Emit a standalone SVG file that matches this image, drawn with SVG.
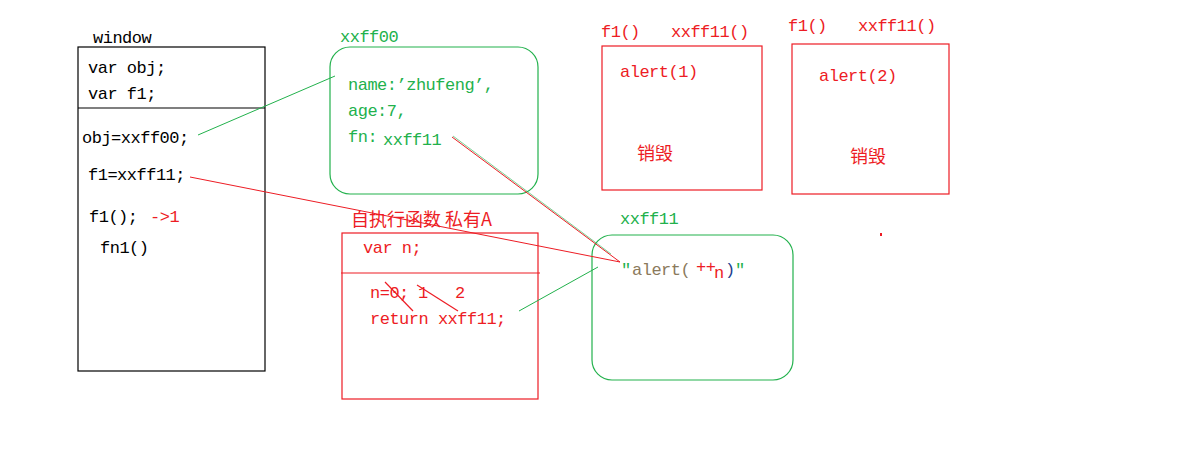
<svg xmlns="http://www.w3.org/2000/svg" width="1200" height="460" viewBox="0 0 1200 460">
<style>
text{font-family:"Liberation Mono","DejaVu Sans Mono","Noto Sans CJK SC",monospace;font-size:17px;letter-spacing:-0.5px}
.k{fill:#000}
.g{fill:#22b14c}
.r{fill:#ed1c24}
.cn{font-family:"Noto Sans CJK SC",sans-serif;font-size:18px;letter-spacing:0}
.bk{fill:none;stroke:#000;stroke-width:1.2}
.gb{fill:none;stroke:#22b14c;stroke-width:1.2}
.rb{fill:none;stroke:#ed1c24;stroke-width:1.2}
</style>
<rect width="1200" height="460" fill="#fff"/>

<g id="window">
<text class="k" x="93" y="43">window</text>
<rect class="bk" x="78" y="47" width="187" height="324"/>
<line class="bk" x1="78" y1="108" x2="265" y2="108"/>
<text class="k" x="88" y="73">var obj;</text>
<text class="k" x="88" y="99">var f1;</text>
<text class="k" x="82" y="143">obj=xxff00;</text>
<text class="k" x="88" y="180">f1=xxff11;</text>
<text class="k" x="89" y="222">f1();</text>
<text class="r" x="150" y="222">-&gt;1</text>
<text class="k" x="100" y="253">fn1()</text>
</g>

<g id="xxff00">
<text class="g" x="340" y="42">xxff00</text>
<rect class="gb" x="330" y="47" width="208" height="147" rx="20"/>
<text class="g" x="348" y="90">name:’zhufeng’,</text>
<text class="g" x="348" y="116">age:7,</text>
<text class="g" x="348" y="142">fn:</text>
<text class="g" x="383" y="145">xxff11</text>
</g>

<g id="iife">
<text class="r cn" x="351" y="226">自执行函数 私有A</text>
<rect class="rb" x="342" y="233" width="196" height="166"/>
<line class="rb" x1="341" y1="273" x2="540" y2="273"/>
<text class="r" x="363" y="253">var n;</text>
<text class="r" x="370" y="298">n=0;</text>
<text class="r" x="418" y="298">1</text>
<text class="r" x="455" y="298">2</text>
<text class="r" x="370" y="324">return xxff11;</text>
<line class="rb" x1="385" y1="282" x2="413" y2="311" stroke-width="1"/>
<line class="rb" x1="417" y1="285" x2="458" y2="311" stroke-width="1"/>
</g>

<g id="xxff11">
<text class="g" x="620" y="224">xxff11</text>
<rect class="gb" x="592" y="235" width="201" height="145" rx="20"/>
<text class="g" x="621" y="275">″</text>
<text x="632" y="275" fill="#8b7a5c">alert(</text>
<text class="r" x="696" y="272">++</text>
<text class="r" x="714" y="278">n</text>
<text x="725" y="275" fill="#1f3f8f">)</text>
<text class="g" x="735" y="275">″</text>
</g>

<g id="call1">
<text class="r" x="601" y="37">f1()</text>
<text class="r" x="671" y="37">xxff11()</text>
<rect class="rb" x="602" y="46" width="160" height="144"/>
<text class="r" x="620" y="77">alert(1)</text>
<text class="r cn" x="637" y="160">销毁</text>
</g>

<g id="call2">
<text class="r" x="788" y="31">f1()</text>
<text class="r" x="858" y="31">xxff11()</text>
<rect class="rb" x="792" y="44" width="157" height="150"/>
<text class="r" x="819" y="81">alert(2)</text>
<text class="r cn" x="850" y="163">销毁</text>
</g>

<rect x="880" y="233" width="2" height="3" fill="#ed1c24"/>

<g id="connectors" fill="none" stroke-width="1">
<line x1="198" y1="135" x2="335" y2="76" stroke="#22b14c"/>
<line x1="190" y1="177" x2="620" y2="262" stroke="#ed1c24"/>
<line x1="452" y1="137" x2="620" y2="262" stroke="#ed1c24"/>
<line x1="453" y1="136" x2="611" y2="254" stroke="#22b14c" stroke-opacity="0.6"/>
<line x1="519" y1="311" x2="598" y2="267" stroke="#22b14c"/>
</g>
</svg>
